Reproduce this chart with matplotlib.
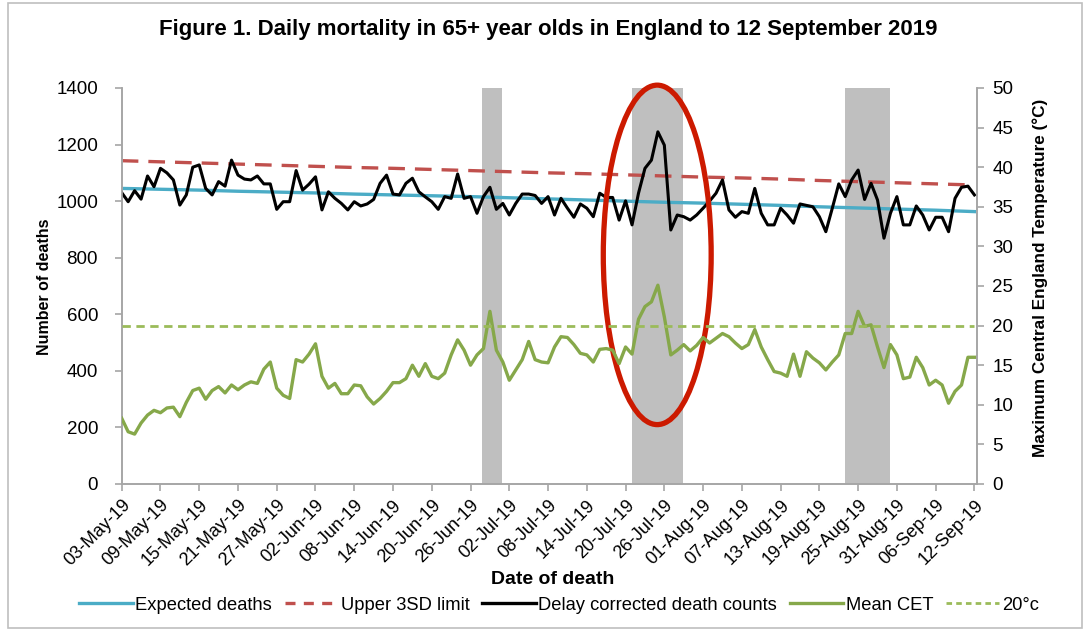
import matplotlib
matplotlib.use('Agg')
import matplotlib.pyplot as plt
from matplotlib.patches import Ellipse, Rectangle
from matplotlib.lines import Line2D

plt.rcParams['font.family'] = ['Liberation Sans', 'DejaVu Sans']

# daily values, 03-May-19 .. 12-Sep-19 (day index 0..132)
deaths = [1030, 998, 1037, 1007, 1089, 1051, 1116, 1100, 1075, 986,
          1022, 1120, 1128, 1045, 1022, 1069, 1053, 1145, 1092, 1078,
          1075, 1089, 1061, 1061, 971, 998, 998, 1108, 1039, 1060,
          1086, 969, 1033, 1010, 992, 969, 998, 983, 990, 1006,
          1063, 1092, 1025, 1022, 1063,
          1081, 1033, 1015, 998, 971, 1016, 1010, 1096, 1010, 1016,
          957, 1016, 1049, 971, 992, 951, 992, 1025, 1025, 1020,
          992, 1016, 951, 1010, 975, 943, 990, 975, 945, 1028,
          1013, 1013, 933, 1001, 916, 1028, 1116, 1145, 1245, 1198,
          898, 951, 945, 933, 951,
          975, 1000, 1028, 1075, 969, 943, 963, 957, 1045, 957,
          916, 916, 975, 951, 922, 990, 985, 980, 945, 892,
          975, 1061, 1016, 1075, 1110, 1006, 1063, 1004, 869, 957,
          1016, 916, 916, 983, 951, 898, 943, 943, 892, 1010,
          1049, 1053, 1022]

mean_cet = [8.3, 6.6, 6.3, 7.7, 8.7, 9.3, 9.0, 9.6, 9.7, 8.5,
            10.3, 11.8, 12.1, 10.7, 11.8, 12.3, 11.5, 12.5, 11.9, 12.5,
            12.9, 12.7, 14.5, 15.4, 12.1, 11.2, 10.8, 15.7, 15.4, 16.4,
            17.7, 13.6, 12.1, 12.7, 11.4, 11.4, 12.5, 12.4, 11.0, 10.1,
            10.8, 11.7, 12.8, 12.8, 13.3,
            15.0, 13.6, 15.2, 13.6, 13.3, 14.0, 16.3, 18.2, 16.9, 15.0,
            16.3, 17.1, 21.8, 16.9, 15.4, 13.1, 14.4, 15.7, 18.0, 15.7,
            15.4, 15.3, 17.3, 18.6, 18.5, 17.6, 16.5, 16.3, 15.4, 17.0,
            17.1, 16.9, 15.2, 17.3, 16.4, 20.8, 22.4, 23.0, 25.1, 21.1,
            16.3, 16.9, 17.6, 16.8, 17.5,
            18.5, 17.8, 18.4, 19.0, 18.6, 17.8, 17.1, 17.6, 19.5, 17.3,
            15.7, 14.2, 14.0, 13.6, 16.4, 13.6, 16.7, 15.9, 15.3, 14.4,
            15.4, 16.3, 19.0, 19.0, 21.8, 19.9, 20.1, 17.3, 14.7, 17.6,
            16.3, 13.3, 13.5, 16.0, 14.7, 12.5, 13.1, 12.5, 10.2, 11.7,
            12.5, 16.0, 16.0]

# expected deaths and upper limit, read every 6 days
expected = [1045, 1042, 1039, 1035, 1032, 1029, 1025, 1022, 1019, 1016, 1012, 1008,
            1004, 1000, 996, 993, 989, 985, 980, 976, 972, 968, 963]
upper_3sd = [1143, 1139, 1135, 1131, 1127, 1123, 1119, 1116, 1112, 1108, 1104, 1100,
             1097, 1093, 1089, 1085, 1082, 1078, 1073, 1069, 1065, 1061, 1057]
tick_labels = ['03-May-19', '09-May-19', '15-May-19', '21-May-19', '27-May-19',
               '02-Jun-19', '08-Jun-19', '14-Jun-19', '20-Jun-19', '26-Jun-19',
               '02-Jul-19', '08-Jul-19', '14-Jul-19', '20-Jul-19', '26-Jul-19',
               '01-Aug-19', '07-Aug-19', '13-Aug-19', '19-Aug-19', '25-Aug-19',
               '31-Aug-19', '06-Sep-19', '12-Sep-19']
threshold = 20

# heat periods (day index)
band_start = [55.7, 79.0, 112.0]
band_end = [58.9, 86.9, 119.0]

days = list(range(len(deaths)))
tick_days = [6 * i for i in range(len(tick_labels))]

fig = plt.figure(figsize=(10.88, 6.33), dpi=100)
ax = fig.add_axes([121.7 / 1088, 1 - 484 / 633, (977 - 121.7) / 1088, 396 / 633])
ax2 = ax.twinx()

for s, e in zip(band_start, band_end):
    ax.axvspan(s, e, color='#BFBFBF', lw=0, zorder=0)

ax.plot(tick_days, expected, color='#4BACC6', lw=2.4, zorder=2)
ax.plot(tick_days, upper_3sd, color='#C0504D', lw=2.4, dashes=(5, 3), zorder=2)
ax.plot(days, deaths, color='black', lw=2.2, zorder=3)
ax2.plot(days, mean_cet, color='#86A84A', lw=2.4, zorder=3)
ax2.plot([0, days[-1]], [threshold, threshold], color='#9BBB59', lw=2.0, dashes=(3, 2), zorder=3)

ax.set_xlim(0, 132.4)
ax.set_ylim(0, 1400)
ax2.set_ylim(0, 50)
ax.set_yticks(range(0, 1401, 200))
ax2.set_yticks(range(0, 51, 5))
ax.set_xticks(tick_days)
ax.set_xticklabels(tick_labels, rotation=45, ha='right', rotation_mode='anchor')

for a in (ax, ax2):
    a.spines['top'].set_visible(False)
    for sp in a.spines.values():
        sp.set_color('#A6A6A6')
        sp.set_linewidth(1.2)
    a.tick_params(colors='#A6A6A6', labelcolor='black', labelsize=13.5, length=5, width=1.2, pad=5)
ax.tick_params(axis='y', pad=12)
ax2.tick_params(axis='y', pad=6)
ax.tick_params(axis='x', labelsize=13, pad=4)
ax.set_zorder(ax2.get_zorder() - 1)
ax.patch.set_visible(False)

# red ellipse round the July heatwave
ell = Ellipse((82.9, 810), 16.7, 1200, fill=False, edgecolor='#CC1A00', lw=3.8,
              clip_on=False, zorder=5)
ax.add_patch(ell)

fig.text(0.504, 0.953, 'Figure 1. Daily mortality in 65+ year olds in England to 12 September 2019',
         ha='center', va='center', fontsize=16, fontweight='bold')
fig.text(0.041, 0.547, 'Number of deaths', rotation=90, ha='center', va='center',
         fontsize=11.5, fontweight='bold')
fig.text(0.956, 0.561, 'Maximum Central England Temperature (°C)', rotation=90,
         ha='center', va='center', fontsize=12.3, fontweight='bold')
fig.text(0.508, 0.084, 'Date of death', ha='center', va='center', fontsize=14, fontweight='bold')

handles = [Line2D([], [], color='#4BACC6', lw=2.4),
           Line2D([], [], color='#C0504D', lw=2.4, dashes=(3, 2.5)),
           Line2D([], [], color='black', lw=2.4),
           Line2D([], [], color='#86A84A', lw=2.4),
           Line2D([], [], color='#9BBB59', lw=2.0, dashes=(2, 1.5))]
labels = ['Expected deaths', 'Upper 3SD limit', 'Delay corrected death counts', 'Mean CET', '20°c']
fig.legend(handles, labels, loc='center', bbox_to_anchor=(0.514, 0.044), ncol=5, frameon=False,
           fontsize=13.2, handlelength=2.9, handletextpad=0.15, columnspacing=0.7)

fig.patches.append(Rectangle((8 / 1088, 5 / 633), 1074 / 1088, 625 / 633, transform=fig.transFigure,
                             fill=False, edgecolor='#BFBFBF', lw=1.2))

plt.savefig('out.png', dpi=100)
